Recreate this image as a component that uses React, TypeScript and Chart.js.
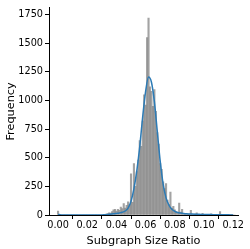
import React, { useEffect, useRef } from "react";
import { Chart, registerables } from "chart.js";

Chart.register(...registerables);

// Histogram: bin width and counts (bin i centred at BIN_START + i * BIN_WIDTH)
const BIN_START = 0.0;
const BIN_WIDTH = 0.001;
const binCounts = [
  35, 0, 0, 0, 0, 0, 0, 0, 0, 0,
  0, 0, 0, 0, 0, 0, 0, 0, 0, 0,
  0, 0, 0, 0, 0, 0, 0, 0, 0, 0,
  0, 0, 5, 8, 12, 20, 17, 30, 45, 50,
  35, 50, 40, 70, 55, 100, 60, 85, 115, 90,
  360, 110, 450, 250, 380, 480, 650, 600, 820, 1050,
  960, 1550, 1720, 1120, 1080, 950, 1095, 905, 720, 620,
  450, 400, 290, 230, 275, 130, 90, 200, 60, 75,
  45, 30, 20, 105, 25, 50, 15, 12, 10, 8,
  8, 40, 6, 5, 8, 20, 4, 3, 5, 15,
  3, 2, 3, 2, 4, 10, 2, 1, 2, 0,
  3, 30, 2, 0, 1, 0, 2, 0, 1, 5,
  0, 0,
];

// KDE curve sampled every KDE_STEP starting at KDE_START
const KDE_START = 0.0;
const KDE_STEP = 0.002;
const kdeValues = [
  5, 1, 0, 0, 0, 0, 0, 0, 0, 0,
  0, 0, 0, 0, 0, 0, 2, 4, 7, 10,
  14, 18, 24, 35, 60, 120, 230, 390, 600, 860,
  1080, 1205, 1160, 990, 730, 470, 270, 150, 85, 50,
  32, 22, 17, 13, 10, 9, 8, 7, 6, 5,
  5, 4, 4, 3, 3, 3, 3, 2, 2, 1,
  1,
];

const xTicks = [0.0, 0.02, 0.04, 0.06, 0.08, 0.1, 0.12];
const yTicks = [0, 250, 500, 750, 1000, 1250, 1500, 1750];
const X_MIN = -0.0062;
const X_MAX = 0.1233;
const Y_MAX = 1810;

export default function App() {
  const ref = useRef<HTMLCanvasElement | null>(null);

  useEffect(() => {
    if (!ref.current) return;
    const tickFont = { family: "'DejaVu Sans'", size: 9.7 };
    const titleFont = { family: "'DejaVu Sans'", size: 11.3 };
    const chart = new Chart(ref.current, {
      type: "bar",
      data: {
        datasets: [
          {
            type: "line",
            label: "kde",
            data: kdeValues.map((v, i) => ({ x: KDE_START + i * KDE_STEP, y: v })),
            borderColor: "#2c7bb6",
            borderWidth: 1.5,
            pointRadius: 0,
            cubicInterpolationMode: "monotone",
            fill: false,
            order: 0,
          } as any,
          {
            type: "bar",
            label: "hist",
            data: binCounts.map((v, i) => ({ x: BIN_START + i * BIN_WIDTH, y: v })),
            backgroundColor: "rgba(128,128,128,0.72)",
            borderWidth: 0,
            barPercentage: 1,
            categoryPercentage: 1,
            order: 1,
          } as any,
        ],
      },
      options: {
        responsive: false,
        animation: false,
        layout: { padding: { left: 0, top: 5, right: 12, bottom: 0 } },
        plugins: { legend: { display: false }, tooltip: { enabled: false } },
        scales: {
          x: {
            type: "linear",
            min: X_MIN,
            max: X_MAX,
            offset: false,
            afterBuildTicks: (s: any) => {
              s.ticks = xTicks.map((v) => ({ value: v }));
            },
            afterFit: (s: any) => {
              s.height = 34;
            },
            grid: {
              display: true,
              drawOnChartArea: false,
              drawTicks: true,
              tickLength: 4,
              color: "#000",
            },
            border: { display: true, color: "#000", width: 1 },
            ticks: {
              font: tickFont,
              color: "#000",
              padding: 1,
              maxRotation: 0,
              autoSkip: false,
              callback: (v: any) => Number(v).toFixed(2),
            },
            title: {
              display: true,
              text: "Subgraph Size Ratio",
              font: titleFont,
              color: "#000",
              padding: { top: 0, bottom: 1 },
            },
          },
          y: {
            type: "linear",
            min: 0,
            max: Y_MAX,
            afterBuildTicks: (s: any) => {
              s.ticks = yTicks.map((v) => ({ value: v }));
            },
            afterFit: (s: any) => {
              s.width = 49;
            },
            grid: {
              display: true,
              drawOnChartArea: false,
              drawTicks: true,
              tickLength: 4,
              color: "#000",
            },
            border: { display: true, color: "#000", width: 1 },
            ticks: {
              font: tickFont,
              color: "#000",
              padding: 2,
              autoSkip: false,
              callback: (v: any) => String(v),
            },
            title: {
              display: true,
              text: "Frequency",
              font: titleFont,
              color: "#000",
              padding: { top: 4, bottom: 0 },
            },
          },
        },
      },
    });
    return () => chart.destroy();
  }, []);

  return (
    <div style={{ position: "fixed", left: 0, top: 0, width: 250, height: 249, background: "#fff" }}>
      <canvas ref={ref} width={250} height={249} style={{ display: "block" }} />
    </div>
  );
}
